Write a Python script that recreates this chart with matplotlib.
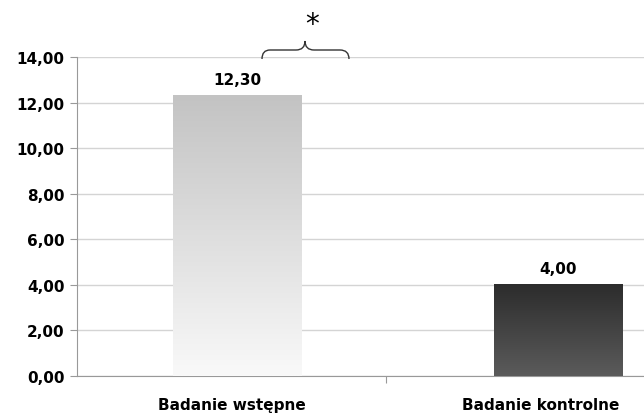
import matplotlib.pyplot as plt
import numpy as np
from matplotlib.colors import to_rgb
from matplotlib.path import Path
from matplotlib.patches import PathPatch

categories = ['Badanie wstępne', 'Badanie kontrolne']
values = [12.30, 4.00]
value_labels = ['12,30', '4,00']
yticks = [0, 2, 4, 6, 8, 10, 12, 14]

fig = plt.figure(figsize=(6.44, 4.14), dpi=100)
W, H = 644, 414
# axes runs past the right edge, like the cropped original
ax = fig.add_axes([77 / W, (H - 377) / H, 618 / W, (377 - 58) / H])

# bars with vertical gradients
bar_pos = [0.018, 1.058]
bar_w = 0.415
grads = [('#c3c3c3', '#f9f9f9'), ('#2c2c2c', '#5b5b5b')]
for x, v, lab, (top, bot) in zip(bar_pos, values, value_labels, grads):
    t = np.array(to_rgb(top))
    b = np.array(to_rgb(bot))
    s = np.linspace(0, 1, 256)[:, None]
    img = (t * (1 - s) + b * s)[:, None, :]
    ax.imshow(img, extent=[x - bar_w / 2, x + bar_w / 2, 0, v],
              aspect='auto', zorder=3, origin='upper')
    ax.text(x, v + 0.4, lab, ha='center', va='bottom',
            fontsize=11, fontweight='bold')
ax.set_xlim(-0.5, 1.5)
ax.set_ylim(0, 14)

ax.set_yticks(yticks)
ax.set_yticklabels([f'{t:.2f}'.replace('.', ',') for t in yticks],
                   fontsize=11, fontweight='bold')
ax.yaxis.grid(True, color='#d4d4d4', linewidth=1)
ax.set_axisbelow(True)
ax.set_xticks([0.5])
ax.set_xticklabels([''])
ax.tick_params(axis='x', length=5, color='#999999')
ax.tick_params(axis='y', length=5, color='#999999', pad=4)
for i, c in enumerate(categories):
    ax.text(i, -1.25, c, ha='center', va='center', fontsize=11, fontweight='bold')

for sp in ['top', 'right']:
    ax.spines[sp].set_visible(False)
for sp in ['left', 'bottom']:
    ax.spines[sp].set_color('#999999')

# curly brace with asterisk (pixel coords -> figure)
def P(x, y):
    return (x / W, (H - y) / H)

verts = [P(262, 60), P(262, 51), P(270, 51), P(270, 51),
         P(296, 51), P(296, 51), P(305, 51), P(305, 42),
         P(305, 51), P(314, 51), P(314, 51),
         P(340, 51), P(340, 51), P(349, 51), P(349, 60)]
codes = [Path.MOVETO, Path.CURVE3, Path.CURVE3, Path.LINETO,
         Path.LINETO, Path.LINETO, Path.CURVE3, Path.CURVE3,
         Path.CURVE3, Path.CURVE3, Path.LINETO,
         Path.LINETO, Path.LINETO, Path.CURVE3, Path.CURVE3]
fig.add_artist(PathPatch(Path(verts, codes), fill=False, edgecolor='#333333',
                         linewidth=1, transform=fig.transFigure))
fig.text(*P(312, 25), '*', ha='center', va='center', fontsize=20)

fig.savefig('out.png', dpi=100)
